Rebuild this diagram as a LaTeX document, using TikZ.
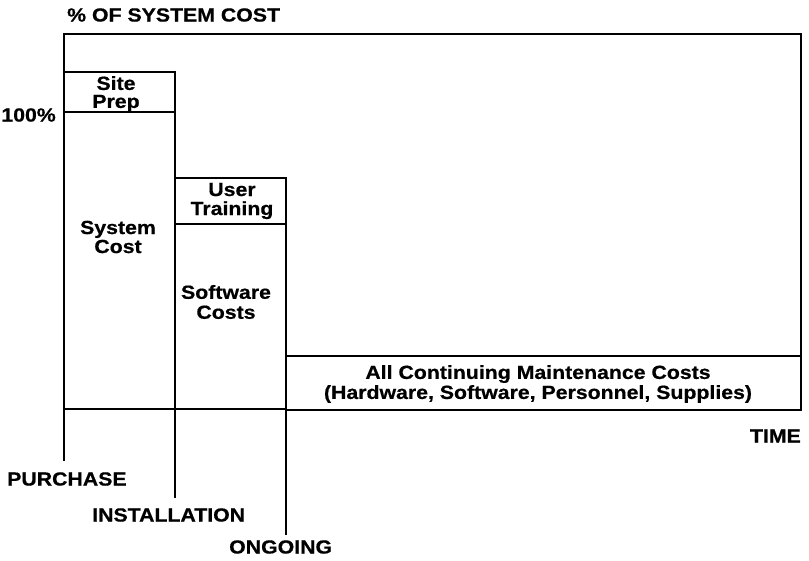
\documentclass[tikz,border=0pt]{standalone}
\usepackage{fontspec}
\setmainfont{Liberation Sans}[FakeStretch=1.12,FakeBold=0.6]
\begin{document}
\begin{tikzpicture}[x=1pt,y=-1pt,
  ln/.style={line width=2.8pt,line cap=rect,line join=miter},
  lbl/.style={font=\bfseries\fontsize{19}{18}\selectfont,inner sep=0pt,align=center,text=black}]
\useasboundingbox (0,0) rectangle (809,560);
% frame
\draw[ln] (64,460) -- (64,34) -- (801,34) -- (801,356);
% site prep / system cost column
\draw[ln] (64,72) -- (175,72) -- (175,497);
\draw[ln] (64,112) -- (175,112);
% user training / software column
\draw[ln] (175,178) -- (286,178) -- (286,534);
\draw[ln] (175,224) -- (286,224);
% maintenance box
\draw[ln] (286,356) -- (801,356) -- (801,410) -- (286,410);
% baseline
\draw[ln] (64,409) -- (286,409);
% labels
\node[lbl,anchor=west] (title) at (67,15) {\% OF SYSTEM COST};
\node[lbl,anchor=east] (pct) at (56,115) {100\%};
\node[lbl] (site) at (116,94) {Site\\[0pt]Prep};
\node[lbl] (sys) at (118,237) {System\\[1pt]Cost};
\node[lbl] (user) at (232,201) {User\\[1pt]Training};
\node[lbl] (soft) at (226,302) {Software\\[2pt]Costs};
\node[lbl] (maint) at (538,384) {All Continuing Maintenance Costs\\[2pt](Hardware, Software, Personnel, Supplies)};
\node[lbl,anchor=east] (time) at (801,436) {TIME};
\node[lbl,anchor=west] (purch) at (7,479) {PURCHASE};
\node[lbl,anchor=west] (inst) at (92,515) {INSTALLATION};
\node[lbl,anchor=west] (ong) at (229,547) {ONGOING};
\end{tikzpicture}
\end{document}
